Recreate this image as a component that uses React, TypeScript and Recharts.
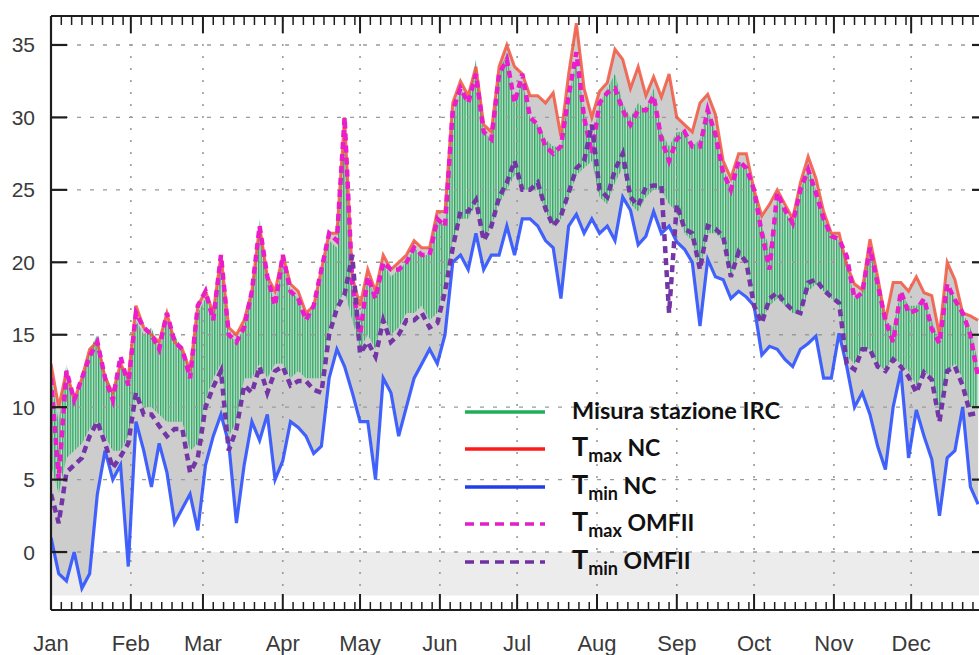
import React from 'react';
import { ComposedChart, Area, Line, XAxis, YAxis, ReferenceLine, ReferenceArea, Legend } from 'recharts';

// day of year, every 3 days
const days = Array.from({ length: 121 }, (_, i) => i * 3);

const tmaxNC = [13,10,12.5,10.5,12,14,14.5,12,11,13,12,
 17,15.5,15,14.5,16.5,14.5,14,12.5,17,
 18,16.5,20.5,15.5,15,16,18,22.5,19,18,
 20.5,18.5,18,16.5,17,19.5,22,22,30,19,
 17,19.5,18,20.5,19.5,20,20.5,21.5,21,21,
 23.5,23.5,31,32.5,31.5,33.5,29.5,29,33.5,35,
 33.5,33,31.5,31.5,31,31.7,28.7,33,36.5,32,
 30,31.8,32.4,34.7,34,32,33.5,31.5,32.8,31.4,33,
 30,29.5,29,31,31.6,30.2,27,25.8,27.5,27.5,
 25,23.2,24,25,24,23,25.5,27.3,25.8,23.5,
 22,22,19.8,18.5,18.1,21.6,19,16,18.6,18.6,
 18,19,17.9,17.7,15,20,18.8,16.5,16.3,16];

const tmaxOM = [12,5,12.5,10.5,12,13.5,14.5,12,10.5,13.5,11.5,
 16.5,15.5,15,14,16.5,14.5,14,12,17,
 18,16,20.5,15,14.5,15.5,18,22.5,19,17,
 20.5,18,17.5,16,17,19.5,22,21.5,30,18.5,
 15,19,17.5,20,19.5,19.5,20,21,20.5,20.5,
 23,22.5,30.5,32,31,33,29,28.5,33,34,
 31,33,30,29.5,28,27.5,28,31.5,34.5,30,
 27.5,31,31.7,32,30.5,29.5,30.5,30.5,31.5,28.5,27,
 28.5,29,28,28,30.5,28.8,26.2,25,27,26.5,
 25,22,19.5,24.8,23.6,22.7,25,26.4,24.8,23,
 21.8,21.6,20.4,17.5,17.9,21,18.5,16,14.5,18,
 16.5,16.7,17.5,15.4,14.4,18.5,17.4,16.5,15,12];

const tminOM = [4,2,5.5,6,6.5,8,9,7.5,5.8,6.6,7.5,
 11,9.5,9.5,8.7,8,8.5,8.5,5.5,6.5,
 10,11.4,12.5,7,8.5,11.5,11,12.8,11,12.5,
 12.8,11.5,11.8,11.8,11.2,11,15,16.8,17.8,20.5,
 13.7,14.5,13.5,16,14.5,15,16,16,16.5,15.5,
 15.8,18,21,23.5,23.5,24.3,21.5,22.5,24.5,25.5,
 27,25,25,25.5,23.7,22.5,23.2,24.8,26.5,27,
 29.5,25,24.5,26.4,27.5,24.5,23.9,25.2,25.3,25.3,16.5,
 24,22.3,22,19.5,22.5,22.3,21.8,19,20.7,20,
 17,15.8,17.5,17.9,17.2,16.7,16.5,18.6,18.8,18.1,
 17.6,17.2,13,12.6,14,14,12.8,12.5,13.3,12.8,
 12.1,11,12.4,11.9,9,12.5,12.8,11.5,9.5,9.6];

const tminNC = [1,-1.5,-2,0,-2.5,-1.5,4,7,5,6,-1,
 9,7,4.5,7.5,5.5,2,3,4,1.5,
 6,8,9.5,7.5,2,6,9,7.7,9.5,5,
 6.3,9,8.6,8,6.8,7.3,12,14,12.8,11,
 9,9,5,12,11,8,10,12,13,14,
 13,15,20,20.5,19.5,22,19.5,20.5,20.5,22.5,
 20.5,23,23,22.5,21.5,21,17.5,22.5,23.3,22,
 23,22,22.5,21.5,24.5,23.6,21.2,21.8,23.5,22,22.5,
 21.4,20.9,20,15.6,20.2,19,18.8,17.5,18,17.6,
 17,13.6,14.2,14,13.3,12.8,14,14.4,14.9,12,
 12,15.1,12.8,10,11,9.5,7.3,5.7,10,12.5,
 6.5,9.8,8,6.4,2.5,6.5,7,10,4.5,3.3];

const stMax = [12,9,13,10,12,14,15,12.5,11,13,12,
 16,15,15.5,14,16,15,14,12.5,16.5,
 17.5,16.5,20,15,14.5,15.5,18,23,19,17,
 20,18,17.5,16,17,19,21.5,21,29,18,
 16,19,17.5,20,19,19.5,20,21,20.5,20.5,
 23,22.5,30,32,31,34,29,28.5,33,34.5,
 31,32.5,30,29.5,28.5,28,28,31.5,34,30.5,
 28,31,32,33,31,30,31,30.5,32,29,28,
 29,29,28,28.5,30.5,29,26.5,25,27,26.5,
 25,22.5,21,24.5,23.5,22.5,25,26.5,25,23,
 22,21.5,20,17.5,18,21,18.5,16,15.5,18,
 17,17,17.5,16,14.5,18.5,17.5,16.5,15.5,13];

const stMin = [6,4,6.5,7,7.5,8.5,9,8,7,7,8,
 11,10,10,9.5,9,9,9,7,7.5,
 10.5,12,13,8,9,12,12,13,12,13,
 13,12,12.5,12,12,12,15.5,17,18,16,
 14,15,14,16.5,15,15.5,16.5,16.5,17,16,
 16.5,18.5,21.5,23,23,24,21.5,22.5,24,25,
 26,25,25,25,23.5,22.5,23,24.5,26,26.5,
 27,24.5,24,25.5,26.5,24,23.5,24.5,25,25,24,
 23.5,22,21.5,19.5,22,22,21.5,19,20.5,20,
 17.5,16,17,17.5,17,16.5,16.5,18,18.5,18,
 17.5,17,13.5,13,14,14,13,12.5,13.5,13,
 12.5,11.5,12.5,12,9.5,12.5,13,12,10,10];

const monthLabels = ['Jan','Feb','Mar','Apr','May','Jun','Jul','Aug','Sep','Oct','Nov','Dec'];
const monthStarts = [0,31,59,90,120,151,181,212,243,273,304,334];
const monthLengths = [31,28,31,30,31,30,31,31,30,31,30,31];
const yTicks = [0,5,10,15,20,25,30,35];

const minorTicks = monthStarts.flatMap((s, i) =>
  [4,8,12,16,20,24,28].filter(k => k < monthLengths[i] - 1).map(k => s + k));
const allXTicks = [...monthStarts, ...minorTicks].sort((a, b) => a - b);

const data = days.map((day, i) => ({
  day,
  tmaxNC: tmaxNC[i], tminNC: tminNC[i],
  tmaxOM: tmaxOM[i], tminOM: tminOM[i],
  stMax: stMax[i], stMin: stMin[i],
}));

const AXIS = '#1e1e1e';
const TICKFONT = '"Liberation Sans", Arial, sans-serif';

const BottomTick = (props: any) => {
  const { x, y, payload } = props;
  const idx = monthStarts.indexOf(payload.value);
  const major = idx >= 0;
  return (
    <g>
      <line x1={x} x2={x} y1={y} y2={y - (major ? 16 : 8)} stroke={AXIS} strokeWidth={major ? 2 : 1.5} />
      {major && (
        <text x={x} y={y + 41} textAnchor="middle" fontSize={22} fontFamily={TICKFONT} fill="#3a3a3a">
          {monthLabels[idx]}
        </text>
      )}
    </g>
  );
};

const TopTick = (props: any) => {
  const { x, y, payload } = props;
  const major = monthStarts.indexOf(payload.value) >= 0;
  return <line x1={x} x2={x} y1={y} y2={y + (major ? 17 : 9)} stroke={AXIS} strokeWidth={major ? 2 : 1.5} />;
};

const LeftTick = (props: any) => {
  const { x, y, payload } = props;
  return (
    <g>
      <line x1={x} x2={x + 16} y1={y} y2={y} stroke={AXIS} strokeWidth={2.2} />
      <text x={x - 16} y={y + 7.5} textAnchor="end" fontSize={21} fontFamily={TICKFONT} fill="#3a3a3a">
        {payload.value}
      </text>
    </g>
  );
};

const RightTick = (props: any) => {
  const { x, y } = props;
  return <line x1={x} x2={x - 19} y1={y} y2={y} stroke={AXIS} strokeWidth={2.2} />;
};

const legendRows = [
  { color: '#1fae5a', dash: undefined, main: 'Misura stazione IRC', sub: '', tail: '' },
  { color: '#ff1a1a', dash: undefined, main: 'T', sub: 'max', tail: ' NC' },
  { color: '#1f3fe8', dash: undefined, main: 'T', sub: 'min', tail: ' NC' },
  { color: '#e020c8', dash: '9 6', main: 'T', sub: 'max', tail: ' OMFII' },
  { color: '#7030a0', dash: '9 6', main: 'T', sub: 'min', tail: ' OMFII' },
];
const legendLineY = [412, 449, 487, 524, 562];
const LFONT = 'Lato, "Open Sans", sans-serif';

const LegendContent = () => (
  <svg width={979} height={655} style={{ position: 'absolute', left: 0, top: 0, pointerEvents: 'none' }}>
    {legendRows.map((r, i) => (
      <g key={i}>
        <line x1={465} x2={545} y1={legendLineY[i]} y2={legendLineY[i]} stroke={r.color} strokeWidth={3.5} strokeDasharray={r.dash} />
        {r.sub ? (
          <text x={572} y={legendLineY[i] + 7} fontFamily={LFONT} fontWeight={700} fill="#111">
            <tspan fontSize={27}>{r.main}</tspan>
            <tspan fontSize={18} dy={6}>{r.sub}</tspan>
            <tspan fontSize={23} dy={-6}>{r.tail}</tspan>
          </text>
        ) : (
          <text x={572} y={legendLineY[i] + 7} fontFamily={LFONT} fontWeight={700} fontSize={23.5} fill="#111">
            {r.main}
          </text>
        )}
      </g>
    ))}
  </svg>
);

export default function App() {
  return (
    <div style={{ position: 'absolute', left: 0, top: 0, width: 979, height: 655, overflow: 'hidden', background: '#fff' }}>
      <ComposedChart width={1000} height={655} data={data} margin={{ top: 14, right: 8, bottom: 0, left: 0 }}>
        <defs>
          <pattern id="stationStripes" patternUnits="userSpaceOnUse" width={2.58} height={10}>
            <rect x={0} y={0} width={2.58} height={10} fill="rgba(195,235,208,0.55)" />
            <rect x={0} y={0} width={1.3} height={10} fill="#27a85e" />
          </pattern>
        </defs>
        <XAxis
          dataKey="day" type="number" domain={[0, 365]} allowDataOverflow
          ticks={allXTicks} interval={0} tickSize={0} tickMargin={0} height={45}
          tick={<BottomTick />} axisLine={{ stroke: AXIS, strokeWidth: 2.2 }} tickLine={false}
        />
        <XAxis
          xAxisId="top" orientation="top" dataKey="day" type="number" domain={[0, 365]} allowDataOverflow
          ticks={allXTicks} interval={0} tickSize={0} tickMargin={0} height={2}
          tick={<TopTick />} axisLine={{ stroke: AXIS, strokeWidth: 2.2 }} tickLine={false}
        />
        <YAxis
          type="number" domain={[-4, 37]} allowDataOverflow ticks={yTicks} interval={0}
          width={51} tickSize={0} tickMargin={0} tick={<LeftTick />}
          axisLine={{ stroke: AXIS, strokeWidth: 2.2 }} tickLine={false}
        />
        <YAxis
          yAxisId="right" orientation="right" type="number" domain={[-4, 37]} allowDataOverflow ticks={yTicks} interval={0}
          width={1} tickSize={0} tickMargin={0} tick={<RightTick />}
          axisLine={{ stroke: AXIS, strokeWidth: 2.2 }} tickLine={false}
        />
        <ReferenceArea x1={0} x2={365} y1={-3} y2={0} fill="#ececec" fillOpacity={1} stroke="none" ifOverflow="hidden" />
        {yTicks.map(v => (
          <ReferenceLine key={'h' + v} y={v} stroke="#9a9a9a" strokeWidth={1.4} strokeDasharray="4 9" />
        ))}
        {monthStarts.slice(1).map(d => (
          <ReferenceLine key={'v' + d} x={d} stroke="#9a9a9a" strokeWidth={1.6} strokeDasharray="2 10" />
        ))}
        <Area
          type="linear" dataKey={(d: any) => [d.tminNC, d.tmaxNC]} stroke="none" fill="#cdcdcd" fillOpacity={1}
          isAnimationActive={false} dot={false} activeDot={false}
        />
        <Area
          type="linear" dataKey={(d: any) => [d.stMin, d.stMax]} stroke="none" fill="url(#stationStripes)" fillOpacity={1}
          isAnimationActive={false} dot={false} activeDot={false}
        />
        <Line type="linear" dataKey="tmaxNC" stroke="#f2553f" strokeWidth={3} strokeOpacity={0.85} dot={false} activeDot={false} isAnimationActive={false} />
        <Line type="linear" dataKey="tminNC" stroke="#2f52ff" strokeWidth={3.2} strokeOpacity={0.9} dot={false} activeDot={false} isAnimationActive={false} />
        <Line type="linear" dataKey="tmaxOM" stroke="#ea1ccb" strokeWidth={4.5} strokeDasharray="7 5" dot={false} activeDot={false} isAnimationActive={false} />
        <Line type="linear" dataKey="tminOM" stroke="#7436a6" strokeWidth={4.5} strokeDasharray="7 5" dot={false} activeDot={false} isAnimationActive={false} />
        <Legend
          layout="vertical" align="center" verticalAlign="middle"
          wrapperStyle={{ left: 0, top: 0, width: 979, height: 655, pointerEvents: 'none' }}
          content={<LegendContent />}
        />
      </ComposedChart>
    </div>
  );
}
